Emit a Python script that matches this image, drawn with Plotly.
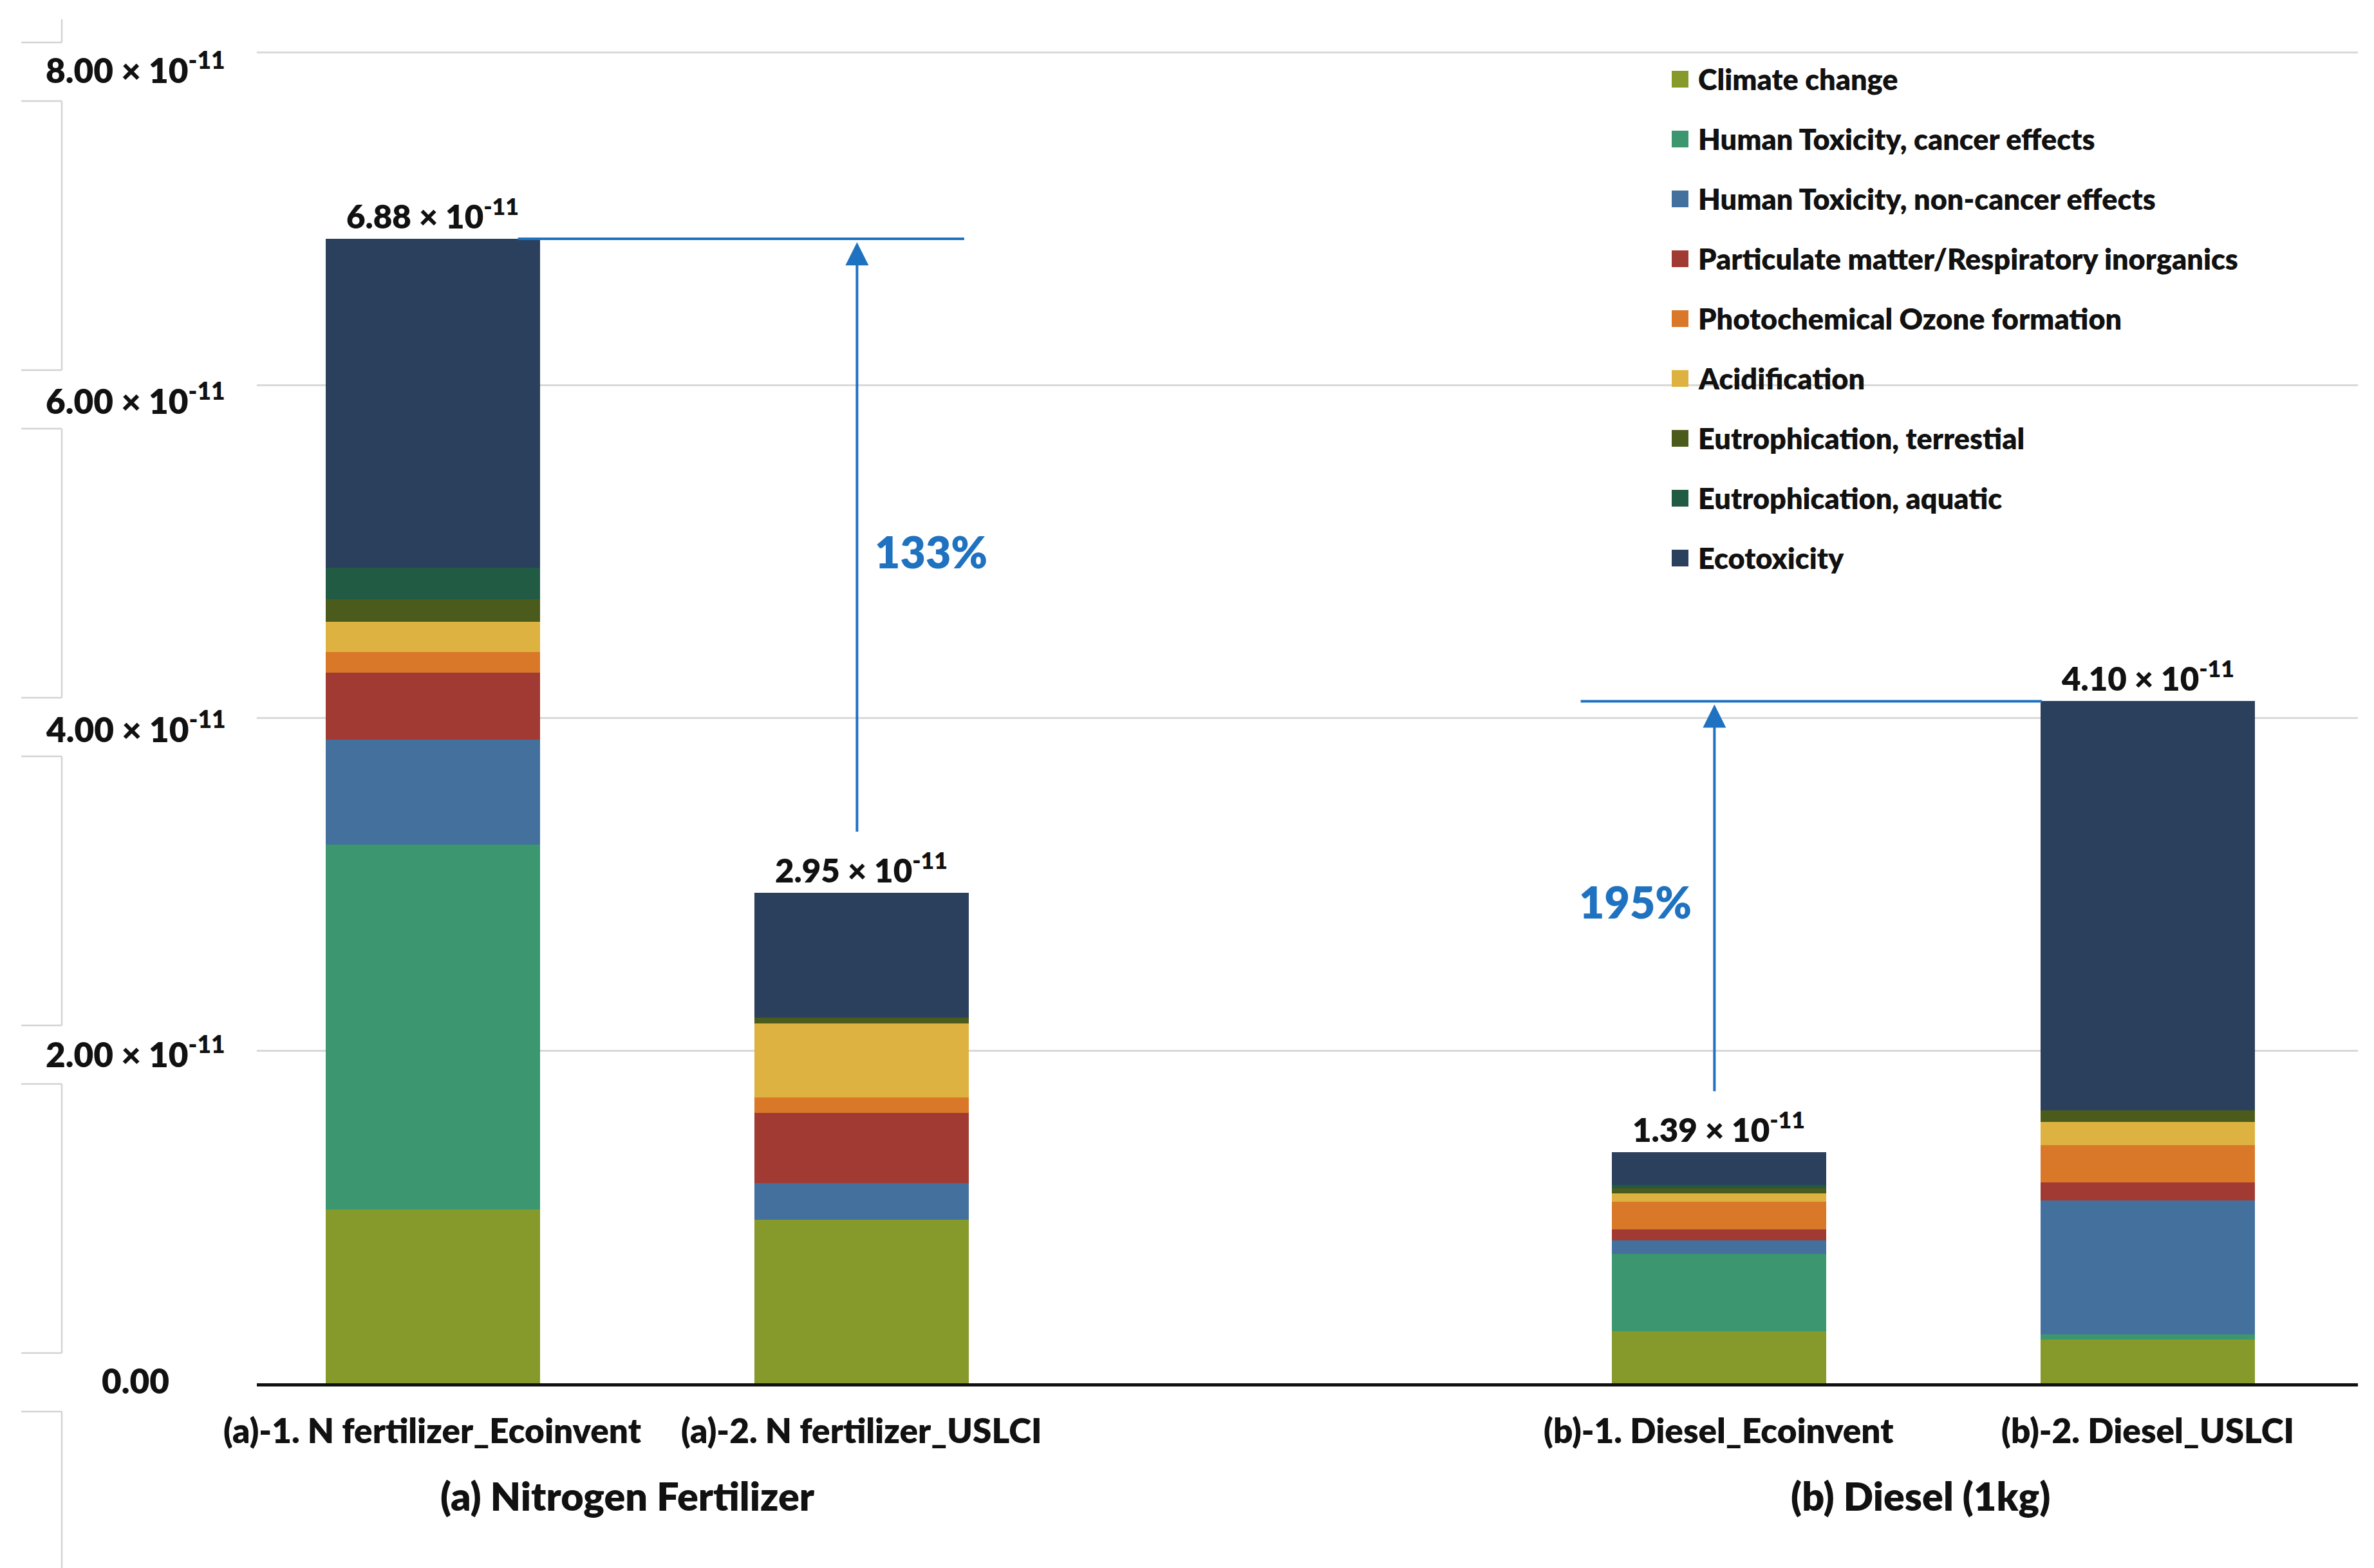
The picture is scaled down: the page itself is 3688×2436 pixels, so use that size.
import plotly.graph_objects as go

# ---------------- data (values in units of 1e-11) ----------------
categories = ["(a)-1. N fertilizer_Ecoinvent", "(a)-2. N fertilizer_USLCI",
              "(b)-1. Diesel_Ecoinvent", "(b)-2. Diesel_USLCI"]
cat_pos = [0, 1, 3, 4]
groups = ["(a) Nitrogen Fertilizer", "(b) Diesel (1kg)"]
group_pos = [0.455, 3.47]

impacts = ["Climate change", "Human Toxicity, cancer effects",
           "Human Toxicity, non-cancer effects",
           "Particulate matter/Respiratory inorganics",
           "Photochemical Ozone formation", "Acidification",
           "Eutrophication, terrestial", "Eutrophication, aquatic", "Ecotoxicity"]
colors = ["#86992B", "#3C966F", "#44709E", "#A13A33", "#D97829",
          "#DEB241", "#4B5B1C", "#215B43", "#2B405C"]

climate_change = [1.045, 0.983, 0.312, 0.264]
ht_cancer      = [2.195, 0.000, 0.466, 0.032]
ht_noncancer   = [0.630, 0.219, 0.081, 0.804]
particulate    = [0.401, 0.423, 0.064, 0.106]
photochem      = [0.123, 0.093, 0.167, 0.224]
acidification  = [0.185, 0.444, 0.052, 0.142]
eutro_terr     = [0.133, 0.035, 0.030, 0.068]
eutro_aq       = [0.192, 0.000, 0.018, 0.000]
ecotox         = [1.976, 0.753, 0.200, 2.460]
totals         = [6.88, 2.95, 1.39, 4.10]

ytick_vals = [0, 2, 4, 6, 8]
ytick_text = ["0.00", "2.00 × 10<sup>-11</sup>", "4.00 × 10<sup>-11</sup>",
              "6.00 × 10<sup>-11</sup>", "8.00 × 10<sup>-11</sup>"]
SCALE = 1e-11

series = [climate_change, ht_cancer, ht_noncancer, particulate, photochem,
          acidification, eutro_terr, eutro_aq, ecotox]

# ---------------- layout geometry ----------------
W, H = 3688, 2436
L, R, T, B = 391, 33, 71, 295
PW, PH = W - L - R, H - T - B


def px_x(px):
    return (px - L) / PW


def px_y(py):
    return (H - B - py) / PH


FONT = "Lato"
HEAVY = 800
BLUE = "#1F72C0"
INK = "#111111"

fig = go.Figure()
for name, col, vals in zip(impacts, colors, series):
    fig.add_trace(go.Bar(
        x=cat_pos, y=[v * SCALE for v in vals], name=name,
        marker=dict(color=col, line=dict(width=0)),
        width=0.5, showlegend=False,
    ))

annotations = []
shapes = []

# totals above bars
for xp, t in zip(cat_pos, totals):
    annotations.append(dict(
        x=xp, y=t * SCALE, xref="x", yref="y", yanchor="bottom", yshift=3,
        text=f"{t:.2f} × 10<sup>-11</sup>", showarrow=False,
        font=dict(family=FONT, size=51, color=INK, weight=HEAVY)))

# category labels under the bars
for c, xp in zip(categories, cat_pos):
    annotations.append(dict(
        x=xp, y=px_y(2213), xref="x", yref="paper", xanchor="center",
        yanchor="middle", text=c, showarrow=False,
        font=dict(family=FONT, size=53, color=INK, weight=HEAVY)))

# custom y tick labels
y_shift = [5, -2, -14, -21, -23]
for v, txt, ys in zip(ytick_vals, ytick_text, y_shift):
    annotations.append(dict(
        x=px_x(202), y=v * SCALE, xref="paper", yref="y", xanchor="center",
        yanchor="middle", yshift=ys, text=txt, showarrow=False,
        font=dict(family=FONT, size=53, color=INK, weight=HEAVY)))

# group titles
for g, gp in zip(groups, group_pos):
    annotations.append(dict(
        x=gp, y=px_y(2315), xref="x", yref="paper", xanchor="center",
        yanchor="middle", text=g, showarrow=False,
        font=dict(family=FONT, size=61, color=INK, weight=HEAVY)))

# comparison lines / arrows / percentages
pairs = [  # (big index, small index, line x0, line x1, arrow x, label x, label y)
    (0, 1, 0.199, 1.24, 0.99, 1.163, 5.0),
    (3, 2, 2.678, 3.754, 2.99, 2.806, 2.895),
]
for big, small, lx0, lx1, axp, tx, ty in pairs:
    top = totals[big]
    shapes.append(dict(type="line", xref="x", yref="y", x0=lx0, x1=lx1,
                       y0=top * SCALE, y1=top * SCALE,
                       line=dict(color=BLUE, width=4)))
    annotations.append(dict(
        x=axp, y=(top - 0.02) * SCALE, ax=axp, ay=(totals[small] + 0.36) * SCALE,
        xref="x", yref="y", axref="x", ayref="y", text="", showarrow=True,
        arrowhead=2, arrowsize=1.8, arrowwidth=4, arrowcolor=BLUE, standoff=0))
    pct = (top / totals[small] - 1) * 100
    annotations.append(dict(
        x=tx, y=ty * SCALE, xref="x", yref="y", xanchor="center",
        yanchor="middle", text=f"{pct:.0f}%", showarrow=False,
        font=dict(family=FONT, size=68, color=BLUE, weight=HEAVY)))

# manual legend
for i, (name, col) in enumerate(zip(impacts, colors)):
    cy = 115 + i * 93
    shapes.append(dict(type="rect", xref="paper", yref="paper",
                       x0=px_x(2589), x1=px_x(2615),
                       y0=px_y(cy + 13), y1=px_y(cy - 13),
                       fillcolor=col, line=dict(width=0)))
    annotations.append(dict(
        x=px_x(2628), y=px_y(cy), xref="paper", yref="paper",
        xanchor="left", yanchor="middle", text=name,
        showarrow=False, font=dict(family=FONT, size=45, color=INK, weight=HEAVY)))

# faint bracket artefacts at the far left
GRAY = "#D3D3D3"
BX, BT = 88, 25
brackets = [(149, 567), (658, 1076), (1167, 1585), (1676, 2094), (2185, 2440)]
shapes.append(dict(type="line", xref="paper", yref="paper", x0=px_x(BX), x1=px_x(BX),
                   y0=px_y(22), y1=px_y(58), line=dict(color=GRAY, width=2.5)))
shapes.append(dict(type="line", xref="paper", yref="paper", x0=px_x(BT), x1=px_x(BX),
                   y0=px_y(58), y1=px_y(58), line=dict(color=GRAY, width=2.5)))
for a, b in brackets:
    shapes.append(dict(type="line", xref="paper", yref="paper", x0=px_x(BX), x1=px_x(BX),
                       y0=px_y(a), y1=px_y(b), line=dict(color=GRAY, width=2.5)))
    shapes.append(dict(type="line", xref="paper", yref="paper", x0=px_x(BT), x1=px_x(BX),
                       y0=px_y(a), y1=px_y(a), line=dict(color=GRAY, width=2.5)))
    if b < H:
        shapes.append(dict(type="line", xref="paper", yref="paper", x0=px_x(BT), x1=px_x(BX),
                           y0=px_y(b), y1=px_y(b), line=dict(color=GRAY, width=2.5)))

fig.update_layout(
    width=W, height=H, barmode="stack",
    margin=dict(l=L, r=R, t=T, b=B, autoexpand=False),
    paper_bgcolor="white", plot_bgcolor="white",
    showlegend=False,
    xaxis=dict(range=[-0.41, 4.491], tickvals=cat_pos, showticklabels=False,
               showgrid=False, zeroline=False, showline=True, linecolor=INK,
               linewidth=5, ticks=""),
    yaxis=dict(range=[0, 8.01 * SCALE], tickvals=[v * SCALE for v in ytick_vals],
               showticklabels=False, showgrid=True, gridcolor="#D9D9D9", gridwidth=3,
               zeroline=False, showline=False),
    annotations=annotations, shapes=shapes,
)

fig.write_html("out.html")
